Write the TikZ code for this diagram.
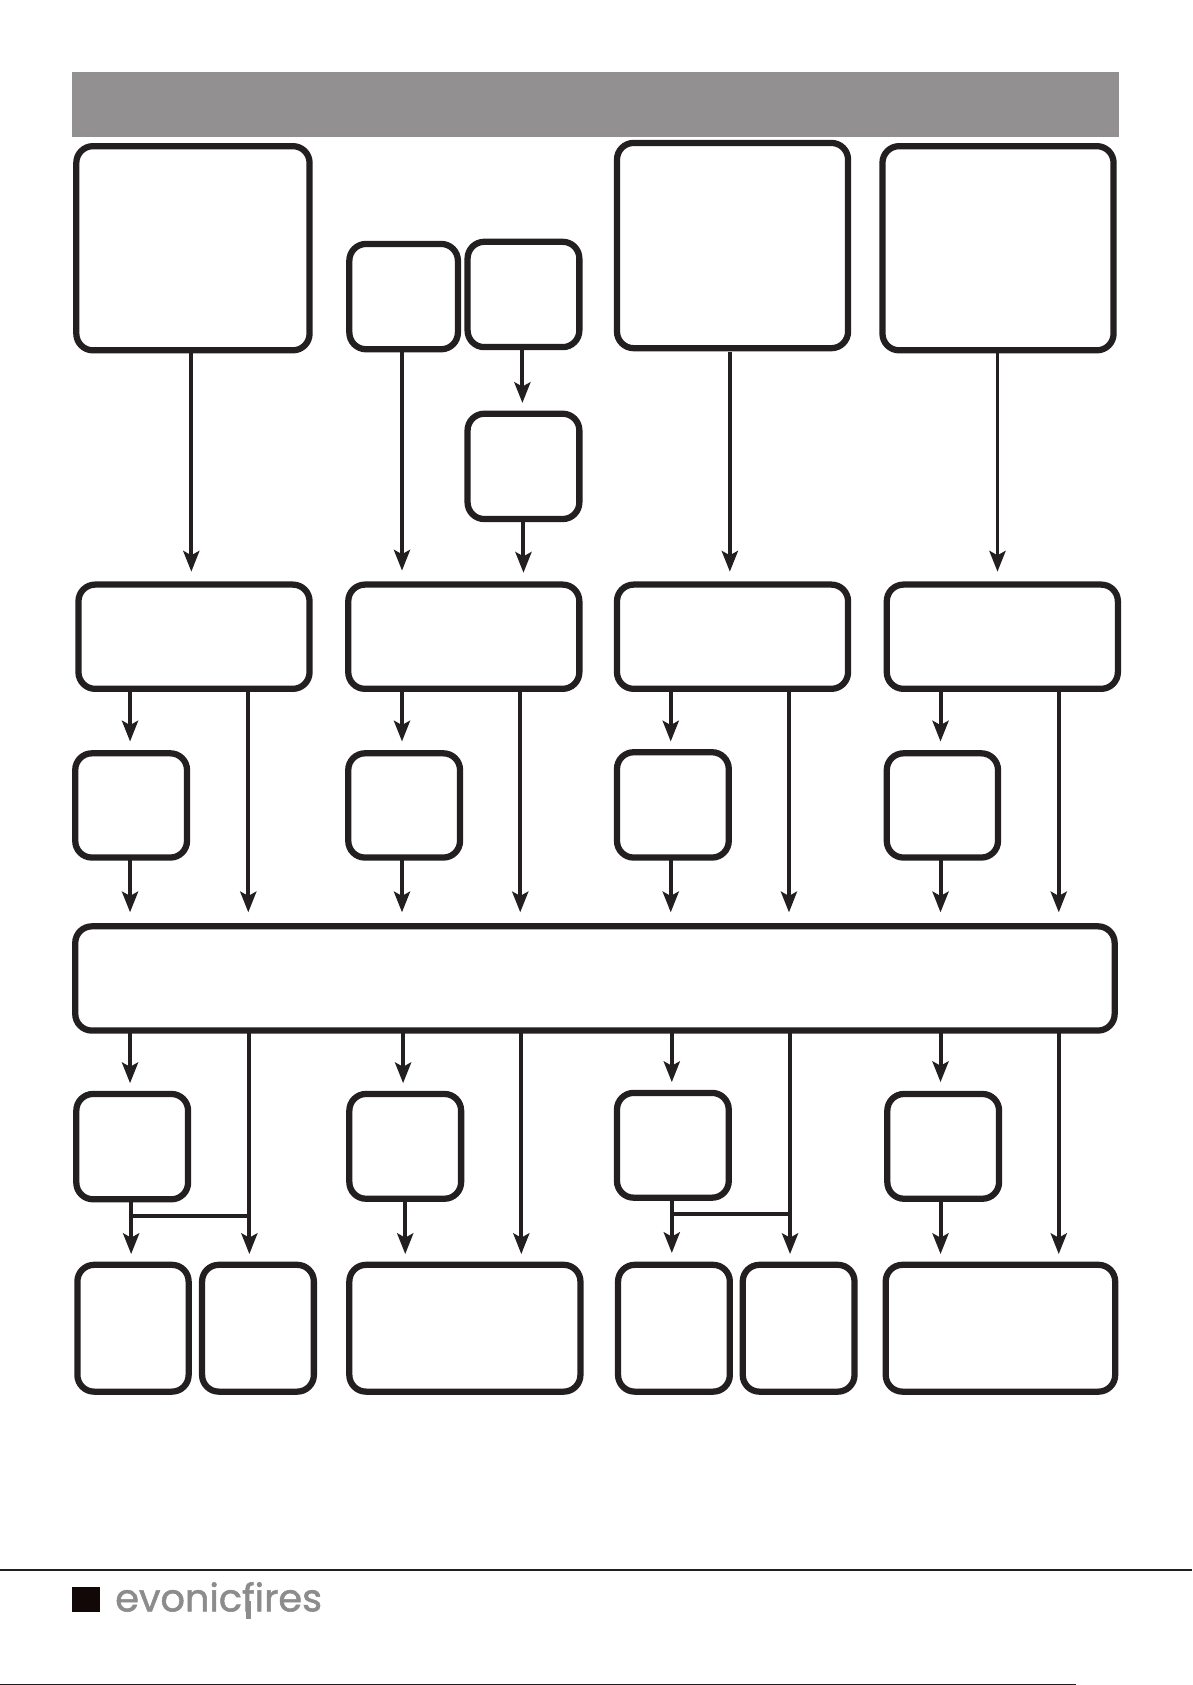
\documentclass[tikz,border=0pt]{standalone}
\usepackage{fontspec}
\setmainfont{Poppins}
\newfontfamily\brandfont[FakeBold=1.4]{Poppins}
\usetikzlibrary{arrows.meta}
\definecolor{ink}{HTML}{231F20}
\definecolor{bar}{HTML}{929091}
\definecolor{logo}{HTML}{8C8C8C}
\definecolor{logoblk}{HTML}{130808}
\newcommand{\flowbox}[5]{% name x1 y1 x2 y2 (centre-line)
  \pgfmathsetmacro{\bw}{(#4-#2)*0.8062}\pgfmathsetmacro{\bh}{(#5-#3)*0.806}
  \node[flowbox, minimum width=\bw pt, minimum height=\bh pt] (#1) at ({(#2+#4)/2},{(#3+#5)/2}) {};}
\begin{document}
\begin{tikzpicture}[x=0.8062pt,y=-0.806pt,
  flowbox/.style={draw=ink,line width=4.7pt,rounded corners=12.5pt,fill=white,inner sep=0pt,outer sep=0pt},
  conn/.style={draw=ink,line width=3pt},
  arr/.style={conn,-{Stealth[length=15.5pt,width=12pt,inset=3.2pt]}}]
\useasboundingbox (0,0) rectangle (1109,1568);
\fill[bar] (67,67) rectangle (1041,127.5);
% top row
\flowbox{aA}{71}{136}{288}{326}
\flowbox{aB}{325}{227}{426}{325}
\flowbox{aC}{435}{225}{539}{323}
\flowbox{aD}{574}{133}{789}{324}
\flowbox{aE}{821}{136}{1036}{326}
\flowbox{aF}{435}{385}{539}{483}
% row 2
\flowbox{bA}{73}{544}{288}{641}
\flowbox{bB}{324}{544}{539}{641}
\flowbox{bC}{574}{544}{789}{641}
\flowbox{bD}{825}{544}{1040}{641}
% row 3
\flowbox{cA}{70}{701}{174}{798}
\flowbox{cB}{324}{701}{428}{798}
\flowbox{cC}{574}{700}{678}{798}
\flowbox{cD}{825}{701}{928.5}{798}
% wide
\flowbox{wide}{70}{862}{1037}{959}
% row 5
\flowbox{dA}{71}{1018}{175}{1116}
\flowbox{dB}{325}{1018}{429}{1115.5}
\flowbox{dC}{574}{1017}{678}{1114.5}
\flowbox{dD}{825.5}{1018}{929.5}{1115.5}
% row 6
\flowbox{eA}{72}{1177}{175.5}{1295}
\flowbox{eB}{188}{1177}{292}{1295}
\flowbox{eC}{325}{1177}{540}{1295}
\flowbox{eD}{575}{1177}{679}{1295}
\flowbox{eE}{691}{1177}{795}{1295}
\flowbox{eF}{824}{1177}{1037.5}{1295}
% arrow ends
\foreach \n/\x/\y in {
 tA/178/532, tB/374/531, tC/486/375, tF/487/533, tD/679/532, tE/928/532,
 uA/121/690, vA/231/849, xA/121/849,
 uB/374/690, vB/484/849, xB/374/849,
 uC/624/690, vC/734/849, xC/624/849,
 uD/875/690, vD/985/849, xD/875/849,
 pA/121/1008, qA/232/1167, pB/375/1008, qB/485/1167,
 pC/625/1007, qC/735/1167, pD/875/1007, qD/985/1167,
 rA/122/1167, rB/377/1167, rC/625/1166, rD/875/1167,
 jA/122/1132, jC/625/1130}
 {\coordinate (\n) at (\x,\y);}
\foreach \s/\e in {aA/tA,aB/tB,aC/tC,aF/tF,aE/tE,
 bA/uA,bA/vA,cA/xA,bB/uB,bB/vB,cB/xB,bC/uC,bC/vC,cC/xC,bD/uD,bD/vD,cD/xD,
 wide/pA,wide/qA,wide/pB,wide/qB,wide/pC,wide/qC,wide/pD,wide/qD,
 dA/rA,dB/rB,dC/rC,dD/rD}
 {\draw[arr] (\e |- \s.south) -- (\e);}
\coordinate (aDgap) at (679,328);
\draw[arr] (aDgap) -- (tD);
\draw[conn] (jA) -- (jA -| qA);
\draw[conn] (jC) -- (jC -| qC);
% footer
\draw[ink,line width=0.9pt] (0,1461) -- (1109,1461);
\draw[ink,line width=1.1pt] (0,1567.3) -- (1001,1567.3);
\fill[logoblk] (67,1477) rectangle (93,1500);
\node[logo,anchor=base west,inner sep=0pt,font=\brandfont\fontsize{28.7}{29}\selectfont] (brand) at (107,1499.5) {evonicfires};
\fill[logo] (228.5,1490) rectangle (233.3,1507);
\end{tikzpicture}
\end{document}
